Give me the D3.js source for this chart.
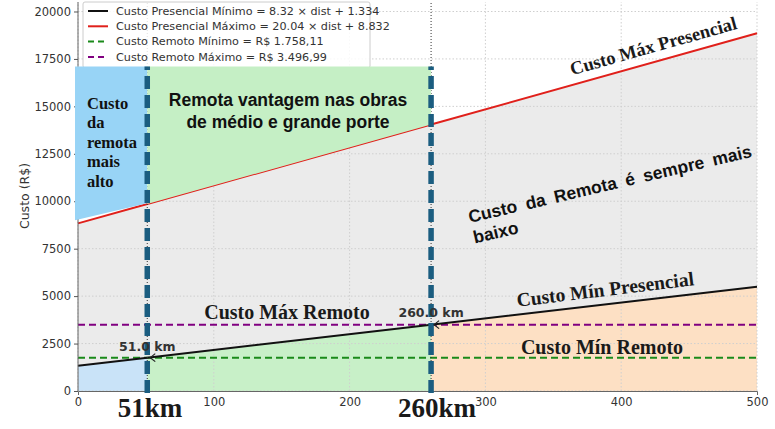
<!DOCTYPE html>
<html>
<head>
<meta charset="utf-8">
<script src="https://cdn.jsdelivr.net/npm/d3@7"></script>
<style>
  body { margin: 0; background: #fff; }
  svg { display: block; }
  .tick text { font-family: "DejaVu Sans", sans-serif; font-size: 11.5px; fill: #333; }
  .tick line { stroke: #555; }
  .domain { stroke: #666; }
</style>
</head>
<body>
<svg width="775" height="429"></svg>
<script>
// dados
const distancias = [0, 51, 260, 500];
const custoPresMin = [1334, 1758, 3497, 5494];   // 8.32 x dist + 1.334
const custoPresMax = [8832, 9854, 14042, 18852]; // 20.04 x dist + 8.832
const custoRemMin = 1758.11;
const custoRemMax = 3496.99;
const cruzamentos = [51, 260];
const topoCaixas = 17100;
const xTicks = [0, 100, 200, 300, 400, 500];
const yTicks = [0, 2500, 5000, 7500, 10000, 12500, 15000, 17500, 20000];
const legenda = [
  { txt: "Custo Presencial Mínimo = 8.32 × dist + 1.334", cor: "#111", dash: null },
  { txt: "Custo Presencial Máximo = 20.04 × dist + 8.832", cor: "#e0201b", dash: null },
  { txt: "Custo Remoto Mínimo = R$ 1.758,11", cor: "#1a8a1a", dash: "6,4" },
  { txt: "Custo Remoto Máximo = R$ 3.496,99", cor: "#800080", dash: "6,4" }
];

const svg = d3.select("svg");
const x = d3.scaleLinear().domain([0, 500]).range([78, 757]);
const y = d3.scaleLinear().domain([0, 20500]).range([391, 2]);

const pts = distancias.map((d, i) => ({ d, min: custoPresMin[i], max: custoPresMax[i] }));
const faixa = (a, b) => pts.filter(p => p.d >= a && p.d <= b);

// faixa cinza entre mínimo e máximo presencial
svg.append("path")
  .datum(pts)
  .attr("fill", "#ebebeb")
  .attr("d", d3.area().x(p => x(p.d)).y0(p => y(p.min)).y1(p => y(p.max)));

// áreas abaixo do custo mínimo
const baixo = d3.area().x(p => x(p.d)).y0(y(0)).y1(p => y(p.min));
svg.append("path").datum(faixa(0, 51)).attr("fill", "#c9e3f8").attr("d", baixo);
svg.append("path").datum(faixa(51, 260)).attr("fill", "#c8f0c8").attr("d", baixo);
svg.append("path").datum(faixa(260, 500)).attr("fill", "#fde0c4").attr("d", baixo);

// grade
svg.append("g").selectAll("line").data(xTicks).join("line")
  .attr("x1", d => x(d)).attr("x2", d => x(d)).attr("y1", y(0)).attr("y2", 2)
  .attr("stroke", "#cfcfcf").attr("stroke-dasharray", "1.5,2");
svg.append("g").selectAll("line").data(yTicks).join("line")
  .attr("x1", x(0)).attr("x2", x(500)).attr("y1", d => y(d)).attr("y2", d => y(d))
  .attr("stroke", "#cfcfcf").attr("stroke-dasharray", "1.5,2");

// linhas do custo remoto
svg.append("line")
  .attr("x1", x(0)).attr("x2", x(500)).attr("y1", y(custoRemMin)).attr("y2", y(custoRemMin))
  .attr("stroke", "#1a8a1a").attr("stroke-width", 2).attr("stroke-dasharray", "7,4");
svg.append("line")
  .attr("x1", x(0)).attr("x2", x(500)).attr("y1", y(custoRemMax)).attr("y2", y(custoRemMax))
  .attr("stroke", "#800080").attr("stroke-width", 2).attr("stroke-dasharray", "7,4");

// linhas do custo presencial
svg.append("path").datum(pts).attr("fill", "none").attr("stroke", "#111").attr("stroke-width", 2)
  .attr("d", d3.line().x(p => x(p.d)).y(p => y(p.min)));
svg.append("path").datum(pts).attr("fill", "none").attr("stroke", "#e0201b").attr("stroke-width", 2)
  .attr("d", d3.line().x(p => x(p.d)).y(p => y(p.max)));

// linhas pontilhadas finas nos cruzamentos
svg.append("g").selectAll("line").data(cruzamentos).join("line")
  .attr("x1", d => x(d)).attr("x2", d => x(d)).attr("y1", y(0)).attr("y2", 2)
  .attr("stroke", "#333").attr("stroke-width", 1).attr("stroke-dasharray", "1,2");

// eixos
svg.append("g").attr("transform", `translate(0,${y(0)})`)
  .call(d3.axisBottom(x).tickValues(xTicks).tickFormat(d3.format("d")).tickSize(4).tickPadding(3))
  .call(g => g.selectAll(".tick line").remove());
svg.append("g").attr("transform", `translate(${x(0)},0)`)
  .call(d3.axisLeft(y).tickValues(yTicks).tickFormat(d3.format("d")).tickSize(4).tickPadding(3))
  .call(g => g.select(".domain").attr("d", `M0,${y(0)}V2`));

svg.append("text")
  .attr("transform", "translate(29,196) rotate(-90)")
  .attr("text-anchor", "middle")
  .attr("font-family", "DejaVu Sans").attr("font-size", 12.5).attr("fill", "#333")
  .text("Custo (R$)");

// legenda
const leg = svg.append("g");
leg.append("rect").attr("x", 83).attr("y", 2).attr("width", 287).attr("height", 66)
  .attr("fill", "#fff").attr("fill-opacity", 0.85).attr("stroke", "#ccc").attr("rx", 2);
legenda.forEach((l, i) => {
  const ly = 11 + i * 15.3;
  leg.append("line").attr("x1", 88).attr("x2", 108).attr("y1", ly).attr("y2", ly)
    .attr("stroke", l.cor).attr("stroke-width", 2).attr("stroke-dasharray", l.dash);
  leg.append("text").attr("x", 116).attr("y", ly + 3.8)
    .attr("font-family", "DejaVu Sans").attr("font-size", 11.2).attr("fill", "#333")
    .text(l.txt);
});

// caixas sobrepostas
const caixa = d3.area().x(p => x(p.d)).y0(p => y(p.max)).y1(y(topoCaixas));
svg.append("path")
  .datum([{ d: -2.2, max: 9000 }, { d: 51, max: 9900 }])
  .attr("fill", "#98d4f6").attr("d", caixa);
svg.append("path")
  .datum(faixa(51, 260))
  .attr("fill", "#c5efc5").attr("d", caixa);

// linhas tracejadas grossas
svg.append("g").selectAll("line").data(cruzamentos).join("line")
  .attr("x1", d => x(d)).attr("x2", d => x(d)).attr("y1", y(0) + 2).attr("y2", y(topoCaixas))
  .attr("stroke", "#1b5d80").attr("stroke-width", 5.5).attr("stroke-dasharray", "13,6");

// anotações de cruzamento
const anot = [{ d: 51, v: 2100, t: "51.0 km" }, { d: 260, v: 3900, t: "260.0 km" }];
svg.append("g").selectAll("text").data(anot).join("text")
  .attr("x", a => x(a.d)).attr("y", a => y(a.v))
  .attr("text-anchor", "middle")
  .attr("font-family", "DejaVu Sans").attr("font-weight", "bold").attr("font-size", 12.5)
  .attr("fill", "#333").text(a => a.t);

// pequenas setas das anotações
svg.append("g").selectAll("path").data(anot).join("path")
  .attr("d", a => {
    const px = x(a.d) + 3, py = y(a.d === 51 ? custoRemMin : custoRemMax);
    return `M${px + 5},${py - 4}L${px},${py}L${px + 5},${py + 4}`;
  })
  .attr("fill", "none").attr("stroke", "#222").attr("stroke-width", 1.2);

// textos
const serif = "Liberation Serif, Times New Roman, serif";
const sans = "Liberation Sans, Arial, sans-serif";

const blocoAzul = ["Custo", "da", "remota", "mais", "alto"];
svg.append("text").attr("font-family", serif).attr("font-weight", "bold").attr("font-size", 16.5)
  .attr("fill", "#111")
  .selectAll("tspan").data(blocoAzul).join("tspan")
  .attr("x", 87).attr("y", (d, i) => 109 + i * 19.4).text(d => d);

svg.append("text").attr("font-family", sans).attr("font-weight", "bold").attr("font-size", 17.5)
  .attr("fill", "#111").attr("text-anchor", "middle")
  .selectAll("tspan").data(["Remota vantagem nas obras", "de médio e grande porte"]).join("tspan")
  .attr("x", 288).attr("y", (d, i) => 106 + i * 22).text(d => d);

svg.append("text")
  .attr("transform", "translate(470,223) rotate(-13.2)")
  .attr("font-family", sans).attr("font-weight", "bold").attr("font-size", 17.5)
  .attr("fill", "#111").attr("word-spacing", 4)
  .selectAll("tspan").data(["Custo da Remota é sempre mais", "baixo"]).join("tspan")
  .attr("x", 0).attr("dy", (d, i) => i ? 21 : 0).text(d => d);

const rot = [
  { t: "Custo Máx Presencial", cx: 655, cy: 52, a: -15.7, s: 18.5 },
  { t: "Custo Mín Presencial", cx: 606, cy: 296, a: -7, s: 19.5 },
  { t: "Custo Máx Remoto", cx: 287, cy: 319, a: 0, s: 20 },
  { t: "Custo Mín Remoto", cx: 602, cy: 354, a: 0, s: 20 }
];
svg.append("g").selectAll("text").data(rot).join("text")
  .attr("transform", r => `translate(${r.cx},${r.cy}) rotate(${r.a})`)
  .attr("text-anchor", "middle")
  .attr("font-family", serif).attr("font-weight", "bold").attr("font-size", r => r.s)
  .attr("fill", "#1a1a1a").text(r => r.t);

svg.append("g").selectAll("text").data([{ t: "51km", cx: 150 }, { t: "260km", cx: 437 }]).join("text")
  .attr("x", r => r.cx).attr("y", 417).attr("text-anchor", "middle")
  .attr("font-family", serif).attr("font-weight", "bold").attr("font-size", 27)
  .attr("fill", "#1a1a1a").text(r => r.t);
</script>
</body>
</html>
